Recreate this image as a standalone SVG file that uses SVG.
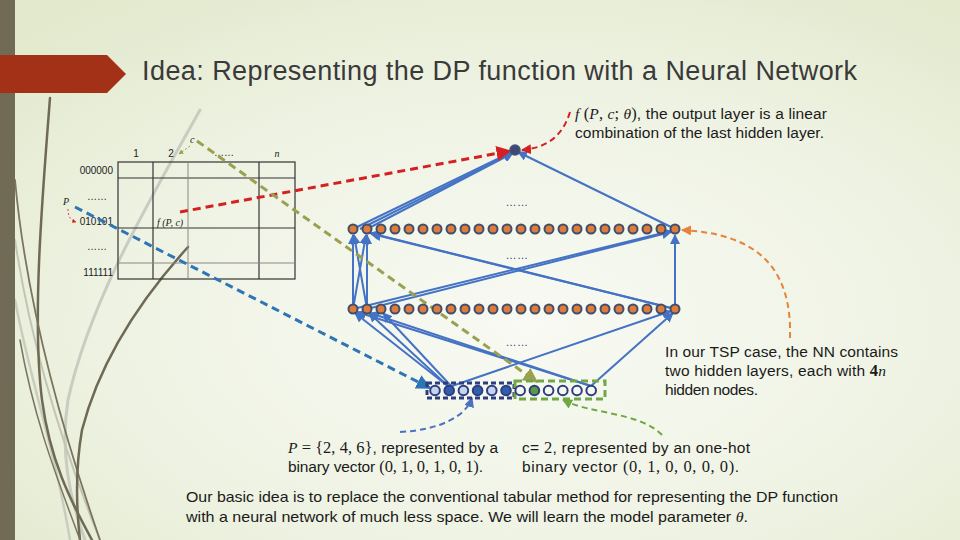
<svg xmlns="http://www.w3.org/2000/svg" width="960" height="540" viewBox="0 0 960 540">
<defs>
<radialGradient id="bg" cx="0.55" cy="0.6" r="0.75">
<stop offset="0" stop-color="#f8faf3"/>
<stop offset="0.6" stop-color="#eef2e2"/>
<stop offset="1" stop-color="#e2e9cc"/>
</radialGradient>
<marker id="ab" viewBox="0 0 10 10" refX="9" refY="5" markerWidth="5" markerHeight="5" orient="auto"><path d="M0,0 L10,5 L0,10 z" fill="#4472c4"/></marker>
<marker id="ar" viewBox="0 0 10 10" refX="9" refY="5" markerWidth="5" markerHeight="5" orient="auto"><path d="M0,0 L10,5 L0,10 z" fill="#d42020"/></marker>
<marker id="ao" viewBox="0 0 10 10" refX="9" refY="5" markerWidth="5" markerHeight="5" orient="auto"><path d="M0,0 L10,5 L0,10 z" fill="#e8823a"/></marker>
<marker id="ag" viewBox="0 0 10 10" refX="9" refY="5" markerWidth="5" markerHeight="5" orient="auto"><path d="M0,0 L10,5 L0,10 z" fill="#9aa050"/></marker>
<marker id="agr" viewBox="0 0 10 10" refX="9" refY="5" markerWidth="5" markerHeight="5" orient="auto"><path d="M0,0 L10,5 L0,10 z" fill="#70a844"/></marker>
<marker id="abl" viewBox="0 0 10 10" refX="9" refY="5" markerWidth="5" markerHeight="5" orient="auto"><path d="M0,0 L10,5 L0,10 z" fill="#2e75b6"/></marker>
<marker id="abl2" viewBox="0 0 10 10" refX="9" refY="5" markerWidth="5" markerHeight="5" orient="auto"><path d="M0,0 L10,5 L0,10 z" fill="#4a72c0"/></marker>
</defs>
<style>
.t{font-family:"Liberation Sans",Arial,sans-serif;fill:#1a1a1a}
.m{font-family:"Liberation Serif","Times New Roman",serif;font-style:italic}
.mr{font-family:"Liberation Serif","Times New Roman",serif;font-size:16.5px}
.tb{font-family:"Liberation Sans",Arial,sans-serif;font-size:10px;fill:#222}
.ti{font-family:"Liberation Serif","Times New Roman",serif;font-style:italic;font-size:10px;fill:#222}
.h{fill:#e07b39;stroke:#3f4f6e;stroke-width:2}
.c{stroke:#4472c4;stroke-width:2;fill:none;marker-end:url(#ab)}
.deco{fill:none;stroke-linecap:round}
.dots{font-family:"Liberation Sans",Arial,sans-serif;font-size:11px;fill:#2f3d80;letter-spacing:0.5px}
</style>
<rect width="960" height="540" fill="url(#bg)"/>
<!-- decorative curves -->
<g id="decor">
<path class="deco" d="M200,110 C150,200 90,300 68,400 C60,450 70,500 85,540" stroke="#c9ccc0" stroke-width="3"/>
<path class="deco" d="M15,300 C30,380 55,450 70,540" stroke="#c9ccc0" stroke-width="2.5"/>
<path class="deco" d="M15,240 C30,340 60,440 100,540" stroke="#c2c5b6" stroke-width="2"/>
<path class="deco" d="M50,98 C42,200 32,320 42,400 C50,460 70,500 92,540" stroke="#6f6a55" stroke-width="2.5"/>
<path class="deco" d="M15,180 C25,290 55,410 100,540" stroke="#7a7560" stroke-width="1.8"/>
<path class="deco" d="M188,247 C140,300 100,360 82,430 C75,470 76,505 80,540" stroke="#6f6a55" stroke-width="2.5"/>
<path class="deco" d="M20,340 C35,425 60,485 80,540" stroke="#7a7560" stroke-width="1.5"/>
</g>
<rect x="0" y="0" width="15" height="540" fill="#716a55"/>
<path d="M0,55 L107,55 L126,74 L107,93 L0,93 z" fill="#a33118"/>
<text class="t" x="142" y="80" font-size="27" textLength="715" lengthAdjust="spacing" style="fill:#3a3a3a">Idea: Representing the DP function with a Neural Network</text>
<!-- table -->
<g id="table">
<g stroke="#333" stroke-width="1.2" fill="none">
<rect x="118" y="162" width="177" height="117"/>
<line x1="118" y1="178" x2="295" y2="178"/>
<line x1="118" y1="228" x2="295" y2="228"/>
<line x1="153" y1="162" x2="153" y2="279"/>
<line x1="259" y1="162" x2="259" y2="279"/>
</g>
<g stroke="#888" stroke-width="1" fill="none">
<line x1="188" y1="162" x2="188" y2="279"/>
<line x1="118" y1="263" x2="295" y2="263"/>
</g>
<text class="tb" x="113" y="174" text-anchor="end">000000</text>
<text class="tb" x="107" y="200" text-anchor="end">……</text>
<text class="tb" x="113" y="225" text-anchor="end">010101</text>
<text class="tb" x="107" y="250" text-anchor="end">……</text>
<text class="tb" x="113" y="276" text-anchor="end">111111</text>
<text class="tb" x="136" y="157" text-anchor="middle">1</text>
<text class="tb" x="171" y="157" text-anchor="middle">2</text>
<text class="tb" x="224" y="156" text-anchor="middle">……</text>
<text class="ti" x="277" y="157" text-anchor="middle">n</text>
<text class="ti" x="190" y="143">c</text>
<text class="ti" x="63" y="205">P</text>
<text class="ti" x="157" y="226">f (P, c)</text>
<path d="M190,146 L179,154" stroke="#9aa050" stroke-width="1" stroke-dasharray="2 2" fill="none" marker-end="url(#ag)"/>
<path d="M68,209 C68,216 70,220 76,222" stroke="#d42020" stroke-width="0.8" stroke-dasharray="2 2" fill="none" marker-end="url(#ar)"/>
</g>
<!-- connectors -->
<g id="connectors">
<line class="c" x1="353" y1="229" x2="512" y2="152"/>
<line class="c" x1="367" y1="229" x2="513" y2="153"/>
<line class="c" x1="360" y1="229" x2="512" y2="153"/>
<line class="c" x1="675" y1="229" x2="518" y2="152"/>
<line class="c" x1="353" y1="309" x2="353" y2="235"/>
<line class="c" x1="367" y1="309" x2="367" y2="235"/>
<line class="c" x1="353" y1="309" x2="366" y2="235"/>
<line class="c" x1="367" y1="309" x2="354" y2="235"/>
<line class="c" x1="353" y1="309" x2="671" y2="231"/>
<line class="c" x1="367" y1="309" x2="671" y2="232"/>
<line class="c" x1="675" y1="309" x2="370" y2="233"/>
<line class="c" x1="675" y1="309" x2="372" y2="234"/>
<line class="c" x1="675" y1="309" x2="675" y2="235"/>
<line class="c" x1="449" y1="387" x2="355" y2="313"/>
<line class="c" x1="449" y1="387" x2="369" y2="313"/>
<line class="c" x1="452" y1="387" x2="383" y2="313"/>
<line class="c" x1="449" y1="387" x2="671" y2="311"/>
<line class="c" x1="591" y1="386" x2="357" y2="312"/>
<line class="c" x1="591" y1="386" x2="370" y2="313"/>
<line class="c" x1="591" y1="386" x2="673" y2="313"/>
<line x1="180" y1="212" x2="510" y2="151" stroke="#d42020" stroke-width="3" stroke-dasharray="8 5" marker-end="url(#ar)"/>
<path d="M570,112 C562,138 545,148 522,150" stroke="#d42020" stroke-width="2" stroke-dasharray="6 4" fill="none" marker-end="url(#ar)"/>
<path d="M790,338 C792,270 760,234 682,230" stroke="#e8823a" stroke-width="2" stroke-dasharray="6 4" fill="none" marker-end="url(#ao)"/>
<line x1="197" y1="141" x2="537" y2="382" stroke="#9aa050" stroke-width="3" stroke-dasharray="8 5" marker-end="url(#ag)"/>
<line x1="75" y1="207" x2="430" y2="388" stroke="#2e75b6" stroke-width="3" stroke-dasharray="8 5" marker-end="url(#abl)"/>
<path d="M400,432 C440,430 466,416 472,398" stroke="#4a72c0" stroke-width="2" stroke-dasharray="6 4" fill="none" marker-end="url(#abl2)"/>
<path d="M662,435 C640,412 590,414 563,400" stroke="#70a844" stroke-width="2" stroke-dasharray="6 4" fill="none" marker-end="url(#agr)"/>
</g>
<!-- network nodes -->
<g id="output"><circle cx="515" cy="150" r="5" fill="#3a4a7b" stroke="#44546a" stroke-width="1.5"/></g>
<g id="hidden1">
<circle class="h" cx="353" cy="229" r="4.5"/><circle class="h" cx="367" cy="229" r="4.5"/><circle class="h" cx="381" cy="229" r="4.5"/><circle class="h" cx="395" cy="229" r="4.5"/><circle class="h" cx="409" cy="229" r="4.5"/><circle class="h" cx="423" cy="229" r="4.5"/><circle class="h" cx="437" cy="229" r="4.5"/><circle class="h" cx="451" cy="229" r="4.5"/><circle class="h" cx="465" cy="229" r="4.5"/><circle class="h" cx="479" cy="229" r="4.5"/><circle class="h" cx="493" cy="229" r="4.5"/><circle class="h" cx="507" cy="229" r="4.5"/><circle class="h" cx="521" cy="229" r="4.5"/><circle class="h" cx="535" cy="229" r="4.5"/><circle class="h" cx="549" cy="229" r="4.5"/><circle class="h" cx="563" cy="229" r="4.5"/><circle class="h" cx="577" cy="229" r="4.5"/><circle class="h" cx="591" cy="229" r="4.5"/><circle class="h" cx="605" cy="229" r="4.5"/><circle class="h" cx="619" cy="229" r="4.5"/><circle class="h" cx="633" cy="229" r="4.5"/><circle class="h" cx="647" cy="229" r="4.5"/><circle class="h" cx="661" cy="229" r="4.5"/><circle class="h" cx="675" cy="229" r="4.5"/>
</g>
<g id="hidden2">
<circle class="h" cx="353" cy="309" r="4.5"/><circle class="h" cx="367" cy="309" r="4.5"/><circle class="h" cx="381" cy="309" r="4.5"/><circle class="h" cx="395" cy="309" r="4.5"/><circle class="h" cx="409" cy="309" r="4.5"/><circle class="h" cx="423" cy="309" r="4.5"/><circle class="h" cx="437" cy="309" r="4.5"/><circle class="h" cx="451" cy="309" r="4.5"/><circle class="h" cx="465" cy="309" r="4.5"/><circle class="h" cx="479" cy="309" r="4.5"/><circle class="h" cx="493" cy="309" r="4.5"/><circle class="h" cx="507" cy="309" r="4.5"/><circle class="h" cx="521" cy="309" r="4.5"/><circle class="h" cx="535" cy="309" r="4.5"/><circle class="h" cx="549" cy="309" r="4.5"/><circle class="h" cx="563" cy="309" r="4.5"/><circle class="h" cx="577" cy="309" r="4.5"/><circle class="h" cx="591" cy="309" r="4.5"/><circle class="h" cx="605" cy="309" r="4.5"/><circle class="h" cx="619" cy="309" r="4.5"/><circle class="h" cx="633" cy="309" r="4.5"/><circle class="h" cx="647" cy="309" r="4.5"/><circle class="h" cx="661" cy="309" r="4.5"/><circle class="h" cx="675" cy="309" r="4.5"/>
</g>
<text class="dots" x="517" y="206" text-anchor="middle">……</text>
<text class="dots" x="517" y="259" text-anchor="middle">……</text>
<text class="dots" x="517" y="346" text-anchor="middle">……</text>
<g id="inputP">
<rect x="427" y="383" width="87" height="15" fill="none" stroke="#2f3d80" stroke-width="3" stroke-dasharray="5 3"/>
<g stroke="#2f3d80" stroke-width="2">
<circle cx="435" cy="390.5" r="4.8" fill="#c5d5ee"/><circle cx="449.2" cy="390.5" r="4.8" fill="#2e5fac"/><circle cx="463.4" cy="390.5" r="4.8" fill="#c5d5ee"/><circle cx="477.6" cy="390.5" r="4.8" fill="#2e5fac"/><circle cx="491.8" cy="390.5" r="4.8" fill="#c5d5ee"/><circle cx="506" cy="390.5" r="4.8" fill="#2e5fac"/>
</g>
</g>
<g id="inputC">
<rect x="515" y="381" width="90" height="18" fill="none" stroke="#70a844" stroke-width="3" stroke-dasharray="7 4"/>
<g stroke="#2f3d80" stroke-width="2">
<circle cx="520.2" cy="390.5" r="4.8" fill="#f5f8f0"/><circle cx="534.4" cy="390.5" r="4.8" fill="#5a9a40"/><circle cx="548.6" cy="390.5" r="4.8" fill="#f5f8f0"/><circle cx="562.8" cy="390.5" r="4.8" fill="#f5f8f0"/><circle cx="577" cy="390.5" r="4.8" fill="#f5f8f0"/><circle cx="591.2" cy="390.5" r="4.8" fill="#f5f8f0"/>
</g>
</g>
<!-- texts -->
<g id="label-output" class="t" font-size="15.5">
<text x="575" y="119" textLength="252" lengthAdjust="spacing"><tspan class="m">f</tspan><tspan class="mr"> (</tspan><tspan class="m">P</tspan><tspan class="mr">, </tspan><tspan class="m">c</tspan><tspan class="mr">; </tspan><tspan class="m">θ</tspan><tspan class="mr">)</tspan>, the output layer is a linear</text>
<text x="575" y="138" textLength="249" lengthAdjust="spacing">combination of the last hidden layer.</text>
</g>
<g id="label-hidden" class="t" font-size="15.5">
<text x="665" y="357" textLength="233" lengthAdjust="spacing">In our TSP case, the NN contains</text>
<text x="665" y="376" textLength="221" lengthAdjust="spacing">two hidden layers, each with <tspan class="mr" font-weight="bold">4</tspan><tspan class="m">n</tspan></text>
<text x="665" y="395" textLength="93" lengthAdjust="spacing">hidden nodes.</text>
</g>
<g id="label-P" class="t" font-size="15.5">
<text x="288" y="453" textLength="210" lengthAdjust="spacing"><tspan class="m">P</tspan><tspan class="mr"> = {2, 4, 6}</tspan>, represented by a</text>
<text x="288" y="472" textLength="195" lengthAdjust="spacing">binary vector <tspan class="mr">(0, 1, 0, 1, 0, 1)</tspan>.</text>
</g>
<g id="label-c" class="t" font-size="15.5">
<text x="522" y="453" textLength="228" lengthAdjust="spacing">c= <tspan class="mr">2</tspan>, represented by an one-hot</text>
<text x="522" y="472" textLength="217" lengthAdjust="spacing">binary vector <tspan class="mr">(0, 1, 0, 0, 0, 0)</tspan>.</text>
</g>
<g id="caption" class="t" font-size="14.5">
<text x="186" y="502" textLength="652" lengthAdjust="spacingAndGlyphs">Our basic idea is to replace the conventional tabular method for representing the DP function</text>
<text x="186" y="522" textLength="562" lengthAdjust="spacingAndGlyphs">with a neural network of much less space. We will learn the model parameter <tspan class="m">θ</tspan>.</text>
</g>
</svg>
